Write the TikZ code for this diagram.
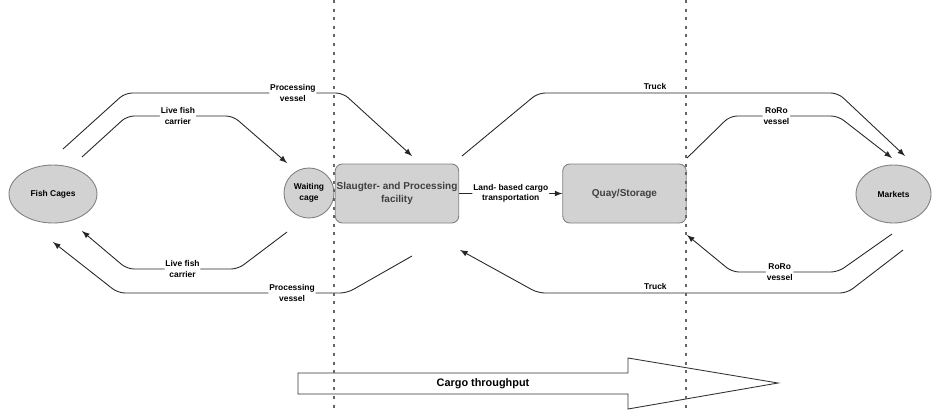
\documentclass[tikz,border=0pt]{standalone}
\usepackage{fontspec}
\setmainfont{Liberation Sans}
\usepackage{tikz}
\usetikzlibrary{shapes.geometric}
\definecolor{boxgray}{RGB}{210,210,210}
\definecolor{edgegray}{RGB}{128,128,128}

\begin{document}
\begin{tikzpicture}[
        x=0.02cm, y=-0.02cm,
        site/.style={ellipse, draw=edgegray, fill=boxgray, line width=0.5pt, inner sep=0pt, align=center, font=\bfseries\fontsize{4.8}{6}\selectfont},
        cage/.style={circle, draw=edgegray, fill=boxgray, line width=0.5pt, minimum size=1cm, inner sep=0pt, align=center, font=\bfseries\fontsize{4.8}{6}\selectfont},
        facility/.style={rectangle, rounded corners=4pt, draw=edgegray, fill=boxgray, line width=0.5pt, minimum width=2.47cm, minimum height=1.18cm, inner sep=0pt, align=center, text=black!75, font=\bfseries\fontsize{5.7}{7}\selectfont},
        route/.style={->, >=latex, rounded corners=4pt, line width=0.5pt, draw=black!85},
        routelabel/.style={fill=white, inner sep=0.5pt, align=center, font=\bfseries\fontsize{4.8}{6}\selectfont},
        divider/.style={black!60, line width=1pt, dash pattern=on 1.7pt off 3.2pt}
    ]
    \useasboundingbox (0,0) rectangle (936,413);

    % Nodes
    \node[site, minimum width=1.76cm, minimum height=1.16cm] (cages) at (53,194) {Fish Cages};
    \node[cage] (waiting) at (309,193) {Waiting\\cage};
    \node[facility] (plant) at (397,193.5) {Slaugter- and Processing\\facility};
    \node[facility] (quay) at (624.5,193.5) {Quay/Storage};
    \node[site, minimum width=1.5cm, minimum height=1.16cm] (markets) at (893.5,194) {Markets};

    % Route end points
    \coordinate (pvTs) at (63,149);    \coordinate (pvTe) at (412,156);
    \coordinate (lfTs) at (82,157);    \coordinate (lfTe) at (287,163);
    \coordinate (lfBs) at (287,232);   \coordinate (lfBe) at (82,231);
    \coordinate (pvBs) at (412,256);   \coordinate (pvBe) at (53,242);
    \coordinate (trTs) at (462,156);   \coordinate (trTe) at (905,156);
    \coordinate (rrTs) at (687,158);   \coordinate (rrTe) at (892,158);
    \coordinate (rrBs) at (892,234);   \coordinate (rrBe) at (687,235);
    \coordinate (trBs) at (903,250);   \coordinate (trBe) at (460,250);

    % Sea side routes
    \draw[route] (pvTs) -- (125,93) -- node[routelabel, pos=0.77] {Processing\\vessel} (343,93) -- (pvTe);
    \draw[route] (lfTs) -- (127,116) -- node[routelabel, pos=0.48] {Live fish\\carrier} (233,116) -- (lfTe);
    \draw[route] (lfBs) -- (238,269) -- node[routelabel, pos=0.5] {Live fish\\carrier} (127,269) -- (lfBe);
    \draw[route] (pvBs) -- (347,293) -- node[routelabel, pos=0.24] {Processing\\vessel} (118,293) -- (pvBe);

    % Land side
    \draw[route] (plant) -- node[routelabel, midway] {Land- based cargo\\transportation} (quay);

    % Market routes
    \draw[route] (trTs) -- (538,93) -- node[routelabel, pos=0.39, above=1pt, fill=none] {Truck} (838,93) -- (trTe);
    \draw[route] (rrTs) -- (730,116) -- node[routelabel, pos=0.43] {RoRo\\vessel} (838,116) -- (rrTe);
    \draw[route] (rrBs) -- (838,272) -- node[routelabel, pos=0.55] {RoRo\\vessel} (732,272) -- (rrBe);
    \draw[route] (trBs) -- (847,293) -- node[routelabel, pos=0.62, above=1pt, fill=none] {Truck} (538,293) -- (trBe);

    % Cargo throughput arrow
    \draw[fill=white, line width=0.5pt, draw=black!80] (298,373) -- (628,373) -- (628,358) -- (778,383) -- (628,409) -- (628,394) -- (298,394) -- cycle;
    \node[font=\bfseries\fontsize{6.2}{7.5}\selectfont] (throughput) at (483,383.5) {Cargo throughput};

    % Zone dividers
    \foreach \x in {334,686} {
        \draw[divider] (\x,0) -- (\x,413);
    }

\end{tikzpicture}
\end{document}
